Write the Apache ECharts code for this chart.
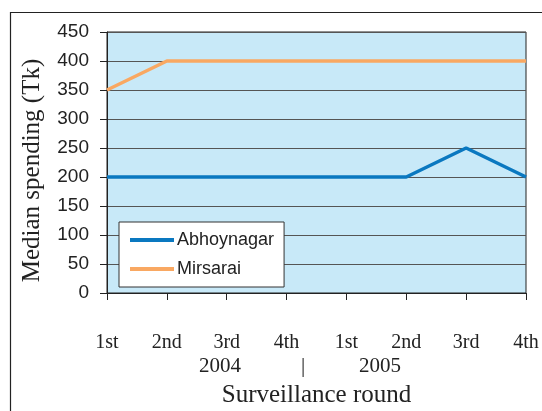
<!DOCTYPE html>
<html>
<head>
<meta charset="utf-8">
<script src="https://cdn.jsdelivr.net/npm/echarts@6/dist/echarts.min.js"></script>
<style>
  html, body { margin: 0; padding: 0; background: #fff; }
  #chart { width: 542px; height: 411px; }
</style>
</head>
<body>
<div id="chart"></div>
<script>
// data
const rounds = ['1st', '2nd', '3rd', '4th', '1st', '2nd', '3rd', '4th'];
const abhoynagar = [200, 200, 200, 200, 200, 200, 250, 200];
const mirsarai = [350, 400, 400, 400, 400, 400, 400, 400];
const yTicks = { min: 0, max: 450, step: 50 };

const serif = '"Liberation Serif", "DejaVu Serif", serif';
const sans = '"Liberation Sans", Arial, sans-serif';

const chart = echarts.init(document.getElementById('chart'), null, { renderer: 'canvas' });

chart.setOption({
  animation: false,
  backgroundColor: '#fff',
  grid: {
    left: 107, top: 32, right: 16, bottom: 118,
    outerBoundsMode: 'none', containLabel: false,
    show: true, backgroundColor: '#c8e9f8', borderColor: '#222', borderWidth: 1
  },
  legend: {
    orient: 'vertical',
    left: 119, top: 222,
    width: 160,
    padding: [9, 10, 9, 11],
    itemGap: 11,
    itemWidth: 44, itemHeight: 4,
    backgroundColor: '#fff',
    borderColor: '#333', borderWidth: 1,
    icon: 'rect',
    textStyle: { fontFamily: sans, fontSize: 18, color: '#222', padding: [0, 0, 0, -2] },
    data: ['Abhoynagar', 'Mirsarai']
  },
  xAxis: {
    type: 'category',
    data: rounds,
    boundaryGap: false,
    axisLine: { lineStyle: { color: '#222', width: 1 } },
    axisTick: { show: true, inside: false, length: 7, lineStyle: { color: '#222' } },
    axisLabel: { margin: 40, fontFamily: serif, fontSize: 20, color: '#222', interval: 0 },
    splitLine: { show: false },
    name: 'Surveillance round',
    nameLocation: 'middle',
    nameGap: 90,
    nameTextStyle: { fontFamily: serif, fontSize: 25, color: '#222' }
  },
  yAxis: {
    type: 'value',
    min: yTicks.min, max: yTicks.max, interval: yTicks.step,
    axisLine: { show: true, lineStyle: { color: '#222', width: 1 } },
    axisTick: { show: true, inside: false, length: 7, lineStyle: { color: '#222' } },
    axisLabel: { margin: 18, fontFamily: sans, fontSize: 19, color: '#222' },
    splitLine: { show: true, lineStyle: { color: '#555', width: 1 } },
    name: 'Median spending (Tk)',
    nameLocation: 'middle',
    nameGap: 62,
    nameTextStyle: { fontFamily: serif, fontSize: 25, color: '#222', padding: [0, 16, 0, 0] }
  },
  series: [
    {
      name: 'Abhoynagar', type: 'line', data: abhoynagar,
      symbol: 'none', z: 3,
      lineStyle: { color: '#0a78c0', width: 3.5 },
      itemStyle: { color: '#0a78c0' }
    },
    {
      name: 'Mirsarai', type: 'line', data: mirsarai,
      symbol: 'none', z: 3,
      lineStyle: { color: '#f9a862', width: 3.5 },
      itemStyle: { color: '#f9a862' }
    }
  ],
  graphic: [
    // outer frame (left and top edges visible in the crop)
    { type: 'line', shape: { x1: 10, y1: 12.5, x2: 542, y2: 12.5 }, style: { stroke: '#222', lineWidth: 1.2 }, silent: true },
    { type: 'line', shape: { x1: 10.5, y1: 12, x2: 10.5, y2: 411 }, style: { stroke: '#222', lineWidth: 1.2 }, silent: true },
    // year row under the round labels
    { type: 'text', x: 220, y: 366, style: { text: '2004', font: '21px ' + serif, fill: '#222', align: 'center', verticalAlign: 'middle' } },
    { type: 'text', x: 303, y: 366, style: { text: '|', font: '21px ' + serif, fill: '#222', align: 'center', verticalAlign: 'middle' } },
    { type: 'text', x: 380, y: 366, style: { text: '2005', font: '21px ' + serif, fill: '#222', align: 'center', verticalAlign: 'middle' } }
  ]
});
</script>
</body>
</html>
